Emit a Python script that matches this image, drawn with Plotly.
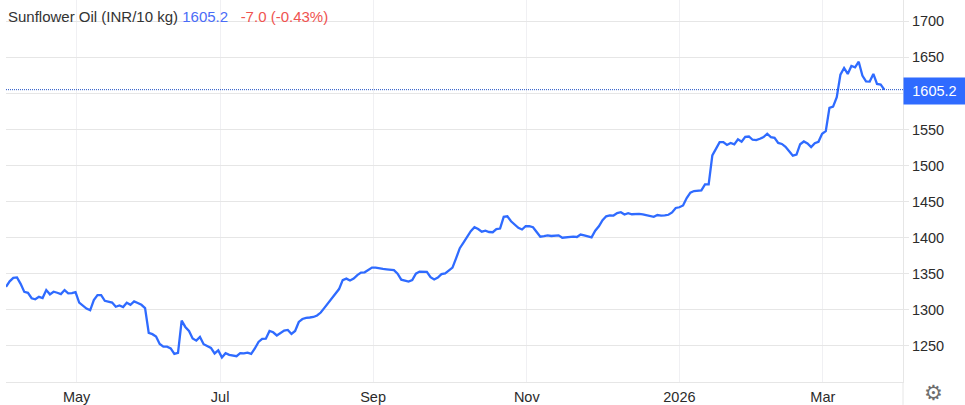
import plotly.graph_objects as go

# daily close
price = [
    1332.0, 1339.5, 1344.4, 1345.0, 1336.0, 1324.9, 1323.6, 1316.1, 1314.7, 1318.0,
    1316.4, 1327.4, 1321.5, 1325.1, 1323.7, 1321.9, 1327.4, 1322.9, 1323.3, 1324.7,
    1310.1, 1305.6, 1301.8, 1299.4, 1313.6, 1320.5, 1320.5, 1312.6, 1310.8, 1310.1,
    1304.3, 1306.0, 1303.9, 1309.9, 1307.1, 1311.8, 1309.5, 1307.0, 1302.5, 1268.0,
    1266.3, 1263.1, 1252.8, 1249.0, 1249.0, 1246.5, 1238.9, 1240.3, 1285.0, 1276.3,
    1270.7, 1260.4, 1257.3, 1262.4, 1252.4, 1250.0, 1247.2, 1239.6, 1243.8, 1234.1,
    1239.9, 1237.6, 1236.2, 1235.8, 1239.9, 1239.6, 1240.7, 1238.9, 1246.5, 1255.5,
    1259.7, 1260.1, 1270.7, 1268.9, 1264.5, 1267.6, 1271.4, 1272.1, 1266.6, 1270.7,
    1283.2, 1287.3, 1289.0, 1289.4, 1290.1, 1292.2, 1296.3, 1302.8, 1309.5, 1315.7,
    1321.9, 1328.8, 1341.3, 1343.3, 1340.6, 1343.3, 1348.2, 1351.6, 1352.0, 1355.1,
    1358.5, 1358.5, 1357.2, 1356.7, 1356.2, 1355.6, 1355.1, 1350.2, 1341.9, 1340.6,
    1339.2, 1341.3, 1350.2, 1353.1, 1352.9, 1352.6, 1345.4, 1342.2, 1344.7, 1349.5,
    1350.5, 1355.1, 1358.5, 1371.7, 1385.5, 1393.1, 1402.1, 1409.0, 1414.5, 1412.0,
    1408.3, 1409.7, 1407.9, 1407.6, 1411.8, 1412.7, 1429.0, 1429.7, 1422.8, 1418.7,
    1413.8, 1411.4, 1415.9, 1415.9, 1414.5, 1407.9, 1401.4, 1402.1, 1403.2, 1402.4,
    1402.6, 1403.2, 1400.0, 1400.4, 1401.8, 1401.4, 1401.0, 1404.4, 1403.2, 1401.8,
    1400.4, 1409.7, 1415.9, 1424.2, 1429.7, 1431.0, 1430.7, 1434.2, 1435.3, 1432.1,
    1433.9, 1432.5, 1433.3, 1433.1, 1432.5, 1431.5, 1430.7, 1428.9, 1431.4, 1430.7,
    1431.1, 1431.8, 1435.0, 1441.2, 1442.2, 1444.7, 1455.0, 1462.5, 1464.7, 1465.4,
    1465.7, 1474.0, 1474.0, 1514.1, 1523.8, 1532.5, 1532.5, 1528.6, 1531.4, 1529.3,
    1536.5, 1533.0, 1539.7, 1540.3, 1535.8, 1535.2, 1537.2, 1539.5, 1544.1, 1539.4,
    1538.5, 1531.4, 1530.0, 1526.1, 1519.9, 1513.7, 1515.2, 1529.6, 1533.4, 1530.7,
    1525.6, 1530.9, 1533.0, 1544.1, 1547.7, 1580.0, 1581.8, 1594.7, 1626.1, 1635.3,
    1627.0, 1638.1, 1636.2, 1644.0, 1624.7, 1616.8, 1616.4, 1627.0, 1613.2, 1612.2,
    1605.2,
]
sessions = list(range(len(price)))

month_pos = [19.3, 58.5, 100.3, 142.3, 184.0, 223.2]
month_labels = ["May", "Jul", "Sep", "Nov", "2026", "Mar"]
y_ticks = [1250, 1300, 1350, 1400, 1450, 1500, 1550, 1600, 1650, 1700]
y_labels = ["1250", "1300", "1350", "1400", "1450", "1500", "1550", "", "1650", "1700"]

last = price[-1]
change = "-7.0 (-0.43%)"

BLUE = "#2f6bff"
font = "Liberation Sans, Arial, sans-serif"

fig = go.Figure()
fig.add_trace(go.Scatter(x=sessions, y=price, mode="lines",
                         line=dict(color=BLUE, width=2.3), hoverinfo="skip"))

fig.update_layout(
    width=965, height=405,
    margin=dict(l=6, r=62, t=0, b=23),
    paper_bgcolor="white", plot_bgcolor="white",
    showlegend=False,
    font=dict(family=font, size=14.5, color="#2b2b2b"),
)
fig.update_xaxes(range=[0, 245.1], tickmode="array", tickvals=month_pos, ticktext=month_labels,
                 showgrid=True, gridcolor="#f0f0f3", gridwidth=1, zeroline=False,
                 ticks="", showline=True, linecolor="#e6e6e6", linewidth=1, ticklabelstandoff=2)
fig.update_yaxes(range=[1200, 1729.5], side="right", tickmode="array", tickvals=y_ticks, ticktext=y_labels,
                 showgrid=True, gridcolor="#e6e6e6", gridwidth=1, zeroline=False,
                 ticks="outside", ticklen=5, tickcolor="#e6e6e6",
                 showline=True, linecolor="#e6e6e6", linewidth=1)

# dotted last price line
fig.add_shape(type="line", xref="paper", x0=0, x1=1, yref="y", y0=last, y1=last,
              line=dict(color="#1d4fc4", width=1, dash="1px,1px"))
# right border runs on below the plot
fig.add_shape(type="line", xref="paper", x0=1, x1=1, yref="paper", y0=-0.06, y1=0,
              line=dict(color="#e6e6e6", width=1))

# last price flag on the axis
fig.add_annotation(xref="paper", x=1, xanchor="left", yref="y", y=last, yanchor="middle", yshift=-1,
                   text=" %.1f " % last, showarrow=False, bgcolor=BLUE, width=61, height=26,
                   font=dict(color="white", size=14.5), borderpad=0, align="center")

header = ("Sunflower Oil (INR/10 kg) "
          "<span style='color:#4a6cf7'>%.1f</span>"
          "<span style='color:#ef5350'>   %s</span>" % (last, change))
fig.add_annotation(xref="paper", x=1 / 897, xanchor="left", yref="paper", y=1, yanchor="top",
                   yshift=-7, text=header, showarrow=False, font=dict(size=15, color="#333333"),
                   borderpad=0, align="left")

# settings icon
fig.add_annotation(xref="paper", x=1, xanchor="left", xshift=19, yref="paper", y=0, yanchor="middle",
                   yshift=-11, text="⚙", showarrow=False, font=dict(size=21, color="#6e6e6e", family="DejaVu Sans"))

fig.write_html("out.html", config=dict(displayModeBar=False),
               post_script="document.body.style.margin='0';")
